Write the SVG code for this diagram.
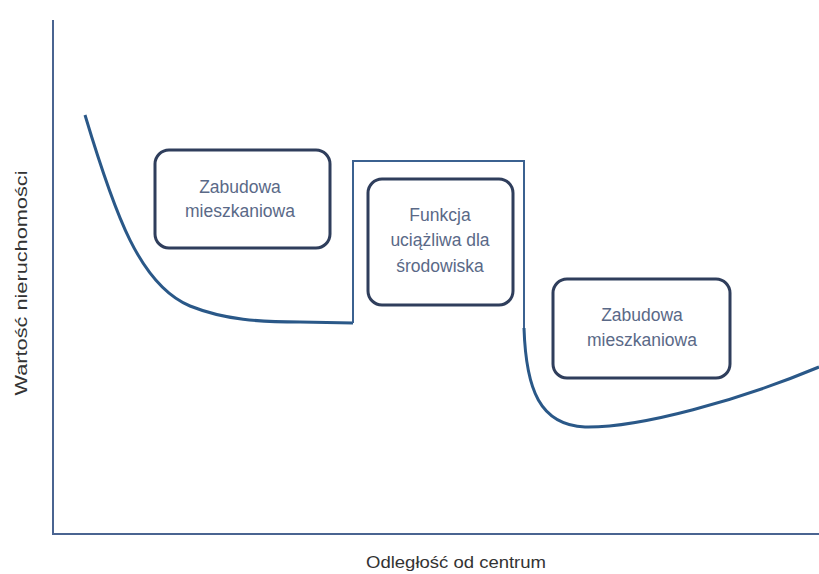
<svg xmlns="http://www.w3.org/2000/svg" width="819" height="574" viewBox="0 0 819 574">
<style>
.box{fill:#fff;stroke:#2f3e5c;stroke-width:3}
.bt{font-family:"Liberation Sans",Arial,sans-serif;font-size:17.5px;fill:#5a6987;text-anchor:middle}
.ax{stroke:#4a6491;stroke-width:2;fill:none}
.lbl{font-family:"Liberation Sans",Arial,sans-serif;font-size:17px;fill:#333;text-anchor:middle}
.curve{fill:none;stroke:#2a5888;stroke-width:3;stroke-linejoin:miter}
.step{fill:none;stroke:#3b6190;stroke-width:2}
</style>
<rect width="819" height="574" fill="#fff"/>
<g id="axes">
<path class="ax" d="M53,20 V534 H819"/>
<text class="lbl" x="456" y="568" textLength="180" lengthAdjust="spacingAndGlyphs">Odległość od  centrum</text>
<text class="lbl" x="27" y="283" transform="rotate(-90 27 283)" textLength="225" lengthAdjust="spacingAndGlyphs">Wartość nieruchomości</text>
</g>
<g id="connectors">
<path class="curve" d="M85,115 C115,215 140,285 190,306 C225,320 260,322 300,322 L353,323"/>
<path class="step" d="M353,323 V161 H524 V328"/>
<path class="curve" d="M524,328 C526,390 540,425 585,427 C640,428 740,400 819,367"/>
</g>
<g id="node-zabudowa-1">
<rect class="box" x="155" y="150" width="175" height="98" rx="14"/>
<text class="bt" x="240" y="193">Zabudowa</text>
<text class="bt" x="240" y="217">mieszkaniowa</text>
</g>
<g id="node-funkcja">
<rect class="box" x="368" y="179" width="145" height="126" rx="14"/>
<text class="bt" x="440" y="221">Funkcja</text>
<text class="bt" x="440" y="246">uciążliwa dla</text>
<text class="bt" x="440" y="272">środowiska</text>
</g>
<g id="node-zabudowa-2">
<rect class="box" x="553" y="279" width="177" height="99" rx="14"/>
<text class="bt" x="642" y="321">Zabudowa</text>
<text class="bt" x="642" y="346">mieszkaniowa</text>
</g>
</svg>
